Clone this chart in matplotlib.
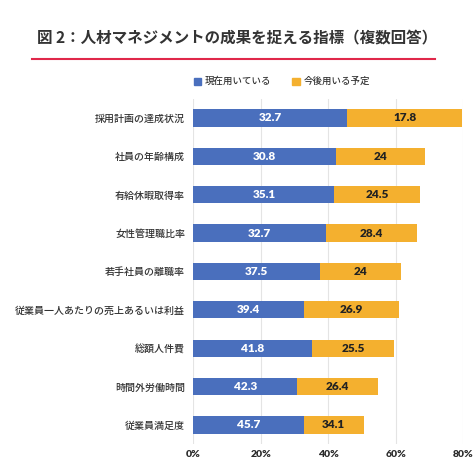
import matplotlib.pyplot as plt
import numpy as np

plt.rcParams['font.family'] = ['Noto Sans CJK JP', 'DejaVu Sans']

categories = ['採用計画の達成状況', '社員の年齢構成', '有給休暇取得率', '女性管理職比率',
              '若手社員の離職率', '従業員一人あたりの売上あるいは利益', '総額人件費',
              '時間外労働時間', '従業員満足度']
current = [32.7, 30.8, 35.1, 32.7, 37.5, 39.4, 41.8, 42.3, 45.7]
planned = [17.8, 24, 24.5, 28.4, 24, 26.9, 25.5, 26.4, 34.1]
xticks = [0, 20, 40, 60, 80]

BLUE = '#4a6fbd'
ORANGE = '#f4b02f'
DARK = '#333333'

fig = plt.figure(figsize=(4.74, 4.68), dpi=100)
ax = fig.add_axes([0.408, 0.051, 0.569, 0.738])

y = np.arange(len(categories))
# the source figure draws bar lengths in reverse order of its labels
bar_cur = current[::-1]
bar_plan = planned[::-1]

ax.barh(y, bar_cur, height=0.45, color=BLUE, zorder=2)
ax.barh(y, bar_plan, left=bar_cur, height=0.45, color=ORANGE, zorder=2)

for i in range(len(categories)):
    ax.text(bar_cur[i] / 2, y[i], f'{current[i]:g}', ha='center', va='center',
            color='white', fontsize=8.5, fontweight='heavy', family=['Lato', 'DejaVu Sans'])
    ax.text(bar_cur[i] + bar_plan[i] / 2, y[i], f'{planned[i]:g}', ha='center', va='center',
            color='#222222', fontsize=8.5, fontweight='heavy', family=['Lato', 'DejaVu Sans'])

ax.set_xlim(0, 80)
ax.set_ylim(len(categories) - 0.5, -0.5)
ax.set_yticks(y)
ax.set_yticklabels(categories, fontsize=7.2, color=DARK, fontweight='medium')
ax.set_xticks(xticks)
ax.set_xticklabels([f'{t}%' for t in xticks], fontsize=7.5, fontweight='heavy',
                   color='#2a2a2a', family=['Lato', 'DejaVu Sans'])
ax.tick_params(length=0, pad=6)
ax.tick_params(axis='x', pad=4)
for s in ax.spines.values():
    s.set_visible(False)
for t in xticks:
    ax.axvline(t, color='#e4e4e4', linewidth=0.8, zorder=1)

fig.text(0.5, 0.919, '図 2：人材マネジメントの成果を捉える指標（複数回答）', ha='center', va='center',
         fontsize=11.2, fontweight='bold', color=DARK)
fig.add_artist(plt.Line2D([0.068, 0.918], [0.873, 0.873], color='#e0284a', linewidth=1.5))

# legend
fig.patches.append(plt.Rectangle((0.409, 0.818), 0.016, 0.016, color=BLUE,
                                 transform=fig.transFigure, figure=fig))
fig.text(0.432, 0.826, '現在用いている', ha='left', va='center', fontsize=6.8, color=DARK,
         fontweight='medium')
fig.patches.append(plt.Rectangle((0.617, 0.818), 0.016, 0.016, color=ORANGE,
                                 transform=fig.transFigure, figure=fig))
fig.text(0.640, 0.826, '今後用いる予定', ha='left', va='center', fontsize=6.8, color=DARK,
         fontweight='medium')

fig.savefig('out.png', dpi=100, facecolor='white')
